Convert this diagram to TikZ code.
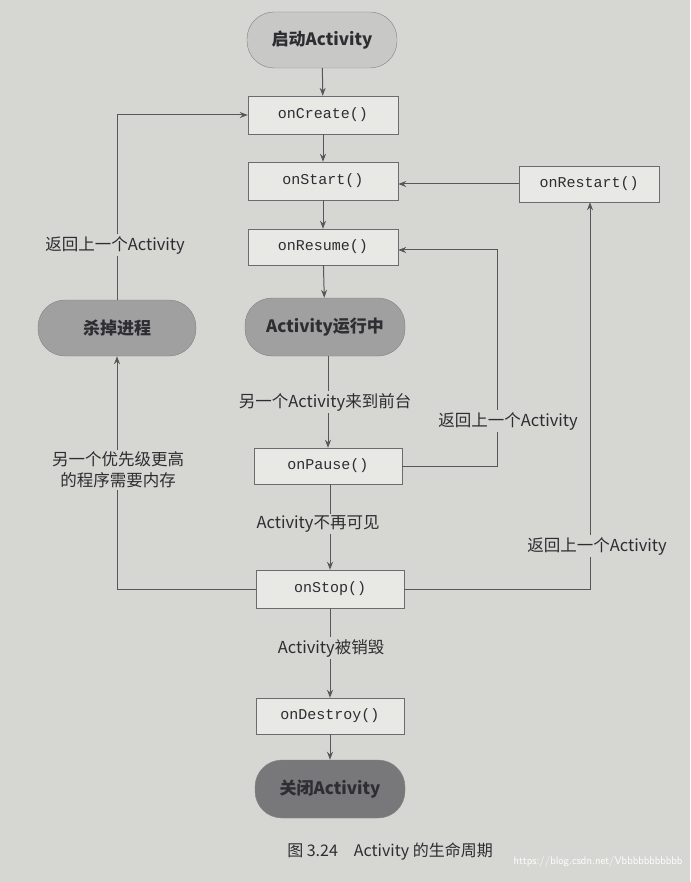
\documentclass[tikz,border=0pt]{standalone}
\usepackage{fontspec}
\setmainfont{Liberation Serif}
\newfontfamily\cjk{Noto Sans CJK SC}
\newfontfamily\mono{Liberation Mono}
\usetikzlibrary{arrows.meta}
\definecolor{bg}{RGB}{214,214,210}
\definecolor{boxc}{RGB}{232,232,228}
\definecolor{pillA}{RGB}{200,200,198}
\definecolor{pillB}{RGB}{160,160,160}
\definecolor{pillC}{RGB}{120,120,122}
\definecolor{ink}{RGB}{45,45,50}
\tikzset{
 fn/.style={draw=ink!70,fill=boxc,minimum width=150pt,minimum height=38pt,font=\mono\fontsize{15}{15}\selectfont,text=ink},
 pill/.style={draw=ink!60,rounded corners=27pt,minimum width=150pt,minimum height=56pt,font=\cjk\bfseries\fontsize{17}{17}\selectfont,text=ink},
 lab/.style={font=\cjk\fontsize{16.5}{21}\selectfont,text=ink,fill=bg,inner sep=2pt,align=center},
 arr/.style={draw=ink!80,line width=1pt,-{Stealth[length=8pt,width=6pt]}}
}
\begin{document}
\begin{tikzpicture}[x=1pt,y=-1pt]
\fill[bg] (0,0) rectangle (690,882);
\useasboundingbox (0,0) rectangle (690,882);
\node[pill,fill=pillA] (st) at (322,40) {启动Activity};
\node[fn] (cr) at (323,115) {onCreate()};
\node[fn] (sa) at (323,181) {onStart()};
\node[fn,minimum height=36pt] (re) at (323,247) {onResume()};
\node[pill,fill=pillB,minimum width=160pt,minimum height=58pt] (run) at (325,327) {Activity运行中};
\node[pill,fill=pillB,minimum width=158pt] (kill) at (117,328) {杀掉进程};
\node[fn,minimum width=140pt,minimum height=36pt] (rs) at (589,184) {onRestart()};
\node[fn,minimum width=148pt,minimum height=36pt] (pa) at (328,466) {onPause()};
\node[fn,minimum width=148pt] (so) at (330,589) {onStop()};
\node[fn,minimum width=148pt,minimum height=36pt] (de) at (330,716) {onDestroy()};
\node[pill,fill=pillC,minimum height=58pt] (cl) at (330,789) {关闭Activity};
\node[font=\cjk\fontsize{16}{16}\selectfont,text=ink] (cap) at (390,852) {图 3.24\quad Activity 的生命周期};
\node[font=\sffamily\fontsize{11}{11}\selectfont,text=white,anchor=east] (wm) at (686,862) {https://blog.csdn.net/Vbbbbbbbbbbb};

\draw[arr] (st) -- (cr);
\draw[arr] (cr) -- (sa);
\draw[arr] (sa) -- (re);
\draw[arr] (re) -- (run);
\draw[arr] (run.south -| pa.north) -- (pa);
\draw[arr] (pa.south -| so.north) -- (so);
\draw[arr] (so) -- (de);
\draw[arr] (de) -- (cl);
\draw[arr] (kill.north) -- (117,115) -- (cr.west);
\draw[arr] (so.west) -- (117,589) -- (kill.south);
\draw[arr] (pa.east) -- (497,466) -- (497,250) -- (re.east |- 250,250);
\draw[arr] (so.east) -- (590,589) -- (rs.south -| 590,0);
\draw[arr] (rs.west) -- (sa.east |- rs.west);

\node[lab] (l1) at (115,245) {返回上一个Activity};
\node[lab] (l2) at (325,402) {另一个Activity来到前台};
\node[lab] (l3) at (508,421) {返回上一个Activity};
\node[lab] (l4) at (118,470) {另一个优先级更高\\的程序需要内存};
\node[lab] (l5) at (318,524) {Activity不再可见};
\node[lab] (l6) at (597,546) {返回上一个Activity};
\node[lab] (l7) at (331,648) {Activity被销毁};
\end{tikzpicture}
\end{document}
